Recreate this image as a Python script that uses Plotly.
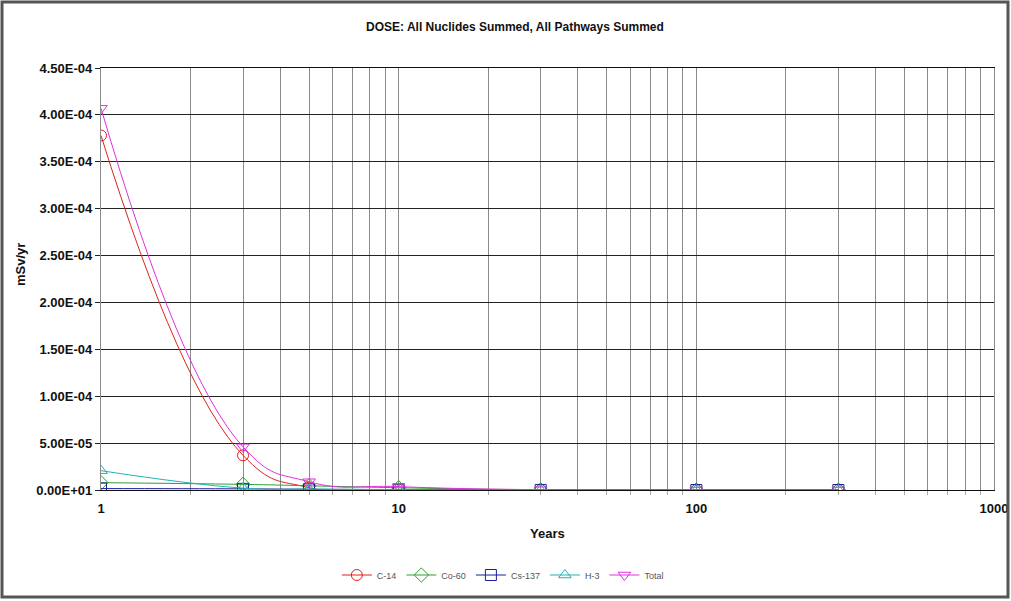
import plotly.graph_objects as go

# ---- data ----
years = [1, 3, 5, 10, 30, 100, 300]
c14 = [3.78e-4, 3.7e-5, 2.5e-6, 3.0e-7, 2.0e-8, 0.0, 0.0]
co60 = [7.8e-6, 6.0e-6, 4.5e-6, 2.4e-6, 1.7e-7, 0.0, 0.0]
cs137 = [1.5e-6, 1.2e-6, 0.8e-6, 0.5e-6, 1.0e-7, 0.0, 0.0]
h3 = [2.06e-5, 2.0e-6, 1.0e-6, 4.0e-7, 2.0e-8, 0.0, 0.0]
total = [4.07e-4, 4.6e-5, 8.8e-6, 3.6e-6, 3.1e-7, 0.0, 0.0]

series_names = ["C-14", "Co-60", "Cs-137", "H-3", "Total"]
series_values = [c14, co60, cs137, h3, total]

y_tickvals = [0, 5e-5, 1e-4, 1.5e-4, 2e-4, 2.5e-4, 3e-4, 3.5e-4, 4e-4, 4.5e-4]
y_ticktext = ["0.00E+01", "5.00E-05", "1.00E-04", "1.50E-04", "2.00E-04",
              "2.50E-04", "3.00E-04", "3.50E-04", "4.00E-04", "4.50E-04"]
x_tickvals = [1, 10, 100, 1000]
x_ticktext = ["1", "10", "100", "1000"]

title_text = "DOSE: All Nuclides Summed, All Pathways Summed"
x_title = "Years"
y_title = "mSv/yr"

# ---- styles ----
colors = ["#e02020", "#2ea02e", "#1c1c9c", "#20b4b4", "#e030e0"]
symbols = ["circle-open", "diamond-open", "square-open", "triangle-up-open", "triangle-down-open"]
FONT = "Liberation Sans, Arial, sans-serif"

W, H = 1011, 601
L, R, T, B = 101, 17, 68, 111
pw, ph = W - L - R, H - T - B

fig = go.Figure()
for name, vals, col, sym in zip(series_names, series_values, colors, symbols):
    fig.add_trace(go.Scatter(
        x=years, y=vals, name=name, mode="lines+markers",
        line=dict(color=col, width=1, shape="spline", smoothing=1.3),
        marker=dict(symbol=sym, size=11, color=col, line=dict(width=1, color=col)),
        cliponaxis=True,
    ))

fig.update_layout(
    width=W, height=H,
    margin=dict(l=L, r=R, t=T, b=B, autoexpand=False),
    paper_bgcolor="white", plot_bgcolor="white",
    font=dict(family=FONT, color="#111"),
    showlegend=True,
    legend=dict(orientation="h", x=0.45, xanchor="center", y=(H - 575 - B) / ph,
                yanchor="middle", font=dict(size=9, color="#555"),
                bgcolor="rgba(0,0,0,0)", itemwidth=30, tracegroupgap=0),
)

fig.update_xaxes(
    type="log", range=[0, 3],
    tickvals=x_tickvals, ticktext=x_ticktext,
    tickfont=dict(size=13, family=FONT, weight="bold", color="#111"),
    ticklabelstandoff=6,
    showgrid=True, gridcolor="#8a8a8a", gridwidth=1.4,
    showline=True, linecolor="#111", linewidth=1.2, mirror=True,
    ticks="", zeroline=False, automargin=False,
    minor=dict(tickvals=[m * 10 ** d for d in range(3) for m in range(2, 10)],
               showgrid=True, gridcolor="#8a8a8a", gridwidth=1.4,
               ticks="outside", ticklen=4, tickcolor="#aaa"),
)
fig.update_yaxes(
    range=[0, 4.5e-4],
    tickvals=y_tickvals, ticktext=y_ticktext,
    tickfont=dict(size=13, family=FONT, weight="bold", color="#111"),
    showgrid=True, gridcolor="#222", gridwidth=1.2,
    showline=True, linecolor="#8a8a8a", linewidth=1.4, mirror=True,
    ticks="outside", ticklen=5, tickcolor="#222",
    zeroline=False, automargin=False,
)

def px_to_paper_x(px):
    return (px - L) / pw

def px_to_paper_y(py):
    return (H - B - py) / ph

fig.add_annotation(text="<b>" + title_text + "</b>", xref="paper", yref="paper",
                   x=px_to_paper_x(515), y=px_to_paper_y(27), showarrow=False,
                   xanchor="center", yanchor="middle",
                   font=dict(size=12, family=FONT, color="#111"))
fig.add_annotation(text="<b>" + x_title + "</b>", xref="paper", yref="paper",
                   x=px_to_paper_x(547), y=px_to_paper_y(533), showarrow=False,
                   xanchor="center", yanchor="middle",
                   font=dict(size=13, family=FONT, color="#111"))
fig.add_annotation(text="<b>" + y_title + "</b>", xref="paper", yref="paper",
                   x=px_to_paper_x(20), y=px_to_paper_y(265), showarrow=False,
                   textangle=-90, xanchor="center", yanchor="middle",
                   font=dict(size=13, family=FONT, color="#111"))

# outer chart border
fig.add_shape(type="rect", xref="paper", yref="paper",
              x0=px_to_paper_x(2), x1=px_to_paper_x(1008),
              y0=px_to_paper_y(597), y1=px_to_paper_y(2),
              line=dict(color="#555", width=3), fillcolor="rgba(0,0,0,0)", layer="above")

fig.write_html("out.html")
